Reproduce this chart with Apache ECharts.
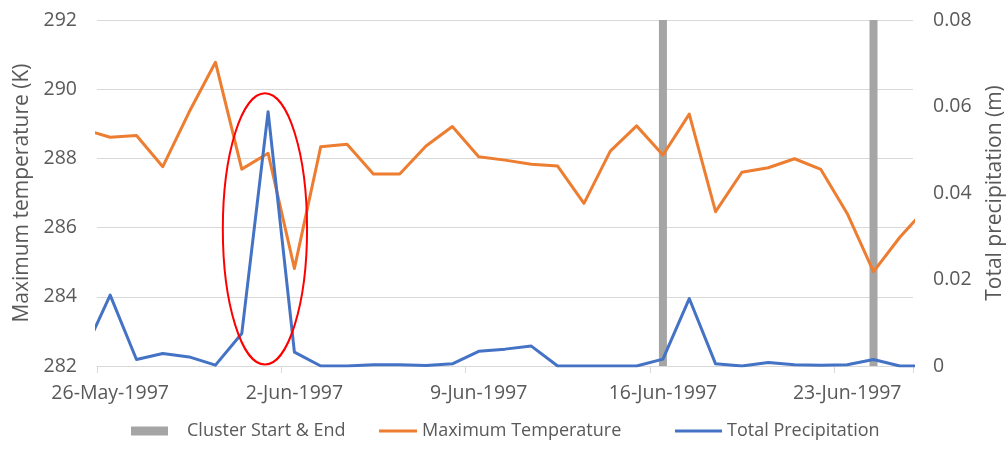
<!DOCTYPE html>
<html>
<head>
<meta charset="utf-8">
<script src="https://cdn.jsdelivr.net/npm/echarts@6/dist/echarts.min.js"></script>
<style>
  html, body { margin: 0; padding: 0; background: #ffffff; }
  #chart { width: 1006px; height: 449px; }
</style>
</head>
<body>
<div id="chart"></div>
<script>
// Days shown: 26-May to 25-Jun; 25-May and 26-Jun lie just outside and are clipped at the edges
const dates = [
  '25-May-1997','26-May-1997','27-May-1997','28-May-1997','29-May-1997','30-May-1997','31-May-1997',
  '1-Jun-1997','2-Jun-1997','3-Jun-1997','4-Jun-1997','5-Jun-1997','6-Jun-1997','7-Jun-1997',
  '8-Jun-1997','9-Jun-1997','10-Jun-1997','11-Jun-1997','12-Jun-1997','13-Jun-1997','14-Jun-1997',
  '15-Jun-1997','16-Jun-1997','17-Jun-1997','18-Jun-1997','19-Jun-1997','20-Jun-1997','21-Jun-1997',
  '22-Jun-1997','23-Jun-1997','24-Jun-1997','25-Jun-1997','26-Jun-1997'
];
const maxTemperature = [
  288.84, 288.61, 288.66, 287.76, 289.34, 290.78, 287.69,
  288.15, 284.82, 288.34, 288.41, 287.55, 287.55, 288.36,
  288.92, 288.05, 287.95, 287.83, 287.78, 286.70, 288.21,
  288.94, 288.10, 289.28, 286.46, 287.60, 287.73, 287.99,
  287.68, 286.41, 284.73, 285.72, 286.56
];
const totalPrecipitation = [
  0.0031, 0.0164, 0.0015, 0.0029, 0.0021, 0.0002, 0.0075,
  0.0588, 0.0032, 0.0000, 0.0000, 0.0003, 0.0003, 0.0001,
  0.0005, 0.0034, 0.0039, 0.0046, 0.0000, 0.0000, 0.0000,
  0.0000, 0.0016, 0.0156, 0.0005, 0.0000, 0.0008, 0.0003,
  0.0002, 0.0003, 0.0015, 0.0000, 0.0000
];
const clusterStartEnd = [
  null, null, null, null, null, null, null,
  null, null, null, null, null, null, null,
  null, null, null, null, null, null, null,
  null, 0.08, null, null, null, null, null,
  null, null, 0.08, null, null
];
const tempTicks = [282, 292, 2];
const precipTicks = [0, 0.08, 0.02];
// red annotation ellipse around the 1-Jun rainfall spike (data units)
const highlight = { date: '1-Jun-1997', dayOffset: -0.12, halfDays: 1.6, low: 282.04, high: 289.88 };

const FONT = 'Open Sans';
const TXT = '#595959';
const visibleDates = dates.slice(1, dates.length - 1);

const chart = echarts.init(document.getElementById('chart'), null, { renderer: 'canvas' });

const pairs = arr => arr.map((v, i) => [i, v]);

const option = {
  animation: false,
  backgroundColor: '#ffffff',
  grid: { left: 97, right: 93, top: 20, bottom: 83, containLabel: false, outerBoundsMode: 'none' },
  legend: [
    {
      data: ['Cluster Start & End'], left: 126, top: 417, icon: 'rect',
      itemWidth: 37, itemHeight: 9,
      textStyle: { fontFamily: FONT, fontSize: 18, color: TXT, padding: [0, 0, 0, 14] }
    },
    {
      data: ['Maximum Temperature'], left: 374, top: 417, icon: 'rect',
      itemWidth: 38, itemHeight: 3,
      textStyle: { fontFamily: FONT, fontSize: 18, color: TXT }
    },
    {
      data: ['Total Precipitation'], left: 670, top: 417, icon: 'rect',
      itemWidth: 47, itemHeight: 3,
      textStyle: { fontFamily: FONT, fontSize: 18, color: TXT }
    }
  ],
  xAxis: [
    { type: 'value', min: 0.5, max: dates.length - 1.5, show: false, position: 'top' },
    {
      type: 'category', data: visibleDates, boundaryGap: true, position: 'bottom',
      axisLine: { show: true, lineStyle: { color: '#D9D9D9', width: 1 } },
      axisTick: { show: true, interval: 6, length: 7, lineStyle: { color: '#D9D9D9' } },
      axisLabel: { interval: 6, margin: 17, fontFamily: FONT, fontSize: 19.5, color: TXT },
      splitLine: { show: false }
    }
  ],
  yAxis: [
    {
      type: 'value', min: tempTicks[0], max: tempTicks[1], interval: tempTicks[2], position: 'left',
      name: 'Maximum temperature (K)', nameLocation: 'middle', nameGap: 62,
      nameTextStyle: { fontFamily: FONT, fontSize: 21, color: TXT },
      axisLine: { show: false }, axisTick: { show: false },
      axisLabel: { margin: 20, fontFamily: FONT, fontSize: 19.5, color: TXT },
      splitLine: { show: true, lineStyle: { color: '#D9D9D9', width: 1 } }
    },
    {
      type: 'value', min: precipTicks[0], max: precipTicks[1], interval: precipTicks[2], position: 'right',
      name: 'Total precipitation (m)', nameLocation: 'middle', nameGap: 72,
      nameTextStyle: { fontFamily: FONT, fontSize: 21, color: TXT },
      axisLine: { show: false }, axisTick: { show: false },
      axisLabel: {
        margin: 20, fontFamily: FONT, fontSize: 19.5, color: TXT,
        formatter: v => (Math.abs(v) < 1e-9 ? '0' : v.toFixed(2))
      },
      splitLine: { show: false }
    }
  ],
  series: [
    {
      name: 'Cluster Start & End', type: 'bar', xAxisIndex: 0, yAxisIndex: 1,
      data: pairs(clusterStartEnd).filter(p => p[1] !== null),
      barWidth: 8, itemStyle: { color: '#A5A5A5' }, z: 1
    },
    {
      name: 'Maximum Temperature', type: 'line', xAxisIndex: 0, yAxisIndex: 0,
      data: pairs(maxTemperature), symbol: 'none', clip: true,
      lineStyle: { color: '#ED7D31', width: 3, join: 'round' }, itemStyle: { color: '#ED7D31' }, z: 3
    },
    {
      name: 'Total Precipitation', type: 'line', xAxisIndex: 0, yAxisIndex: 1,
      data: pairs(totalPrecipitation), symbol: 'none', clip: true,
      lineStyle: { color: '#4472C4', width: 3, join: 'round' }, itemStyle: { color: '#4472C4' }, z: 4
    }
  ]
};

chart.setOption(option);

// place the red annotation ellipse through the chart's own coordinate conversion
const hx = dates.indexOf(highlight.date) + highlight.dayOffset;
const ePos = { xAxisIndex: 0, yAxisIndex: 0 };
const eCenter = chart.convertToPixel(ePos, [hx, (highlight.low + highlight.high) / 2]);
const eTop = chart.convertToPixel(ePos, [hx, highlight.high]);
const eSide = chart.convertToPixel(ePos, [hx + highlight.halfDays, highlight.high]);
chart.setOption({
  graphic: [{
    type: 'ellipse', z: 100,
    shape: { cx: eCenter[0], cy: eCenter[1], rx: eSide[0] - eCenter[0], ry: eCenter[1] - eTop[1] },
    style: { fill: 'none', stroke: '#FF0000', lineWidth: 2 }
  }]
});
</script>
</body>
</html>
